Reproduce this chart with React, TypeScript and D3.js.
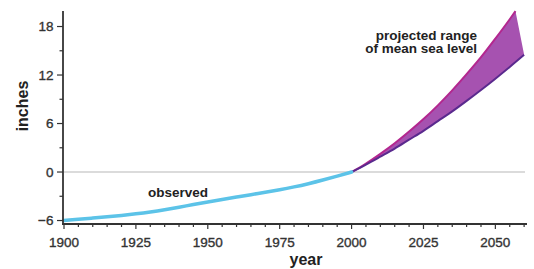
import React from "react";
import * as d3 from "d3";

const observedYears = [1900,1905,1910,1915,1920,1925,1930,1935,1940,1945,1950,1955,1960,1965,1970,1975,1980,1985,1990,1995,2000];
const observedValues = [-6,-5.85,-5.7,-5.55,-5.38,-5.18,-4.95,-4.67,-4.35,-4.02,-3.7,-3.4,-3.1,-2.8,-2.5,-2.2,-1.85,-1.45,-1.0,-0.5,0];

const upperYears = [2000,2005,2010,2015,2020,2025,2030,2035,2040,2045,2050,2055,2057];
const upperValues = [0,1.05,2.25,3.55,5.0,6.55,8.25,10.1,12.1,14.2,16.5,18.9,19.9];

const lowerYears = [2000,2005,2010,2015,2020,2025,2030,2035,2040,2045,2050,2055,2060];
const lowerValues = [0,0.92,1.9,2.9,4.0,5.1,6.3,7.5,8.8,10.15,11.55,13.0,14.5];

const xTicks = [1900,1925,1950,1975,2000,2025,2050];
const yTicks = [-6,0,6,12,18];

const FONT = "'Liberation Sans', Arial, Helvetica, sans-serif";

export default function App() {
  const W = 534, H = 269;
  const x = d3.scaleLinear().domain([1900, 2061]).range([64, 527]);
  const y = d3.scaleLinear().domain([-6.43, 19.92]).range([224, 11]);

  const line = d3.line<[number, number]>().x(d => x(d[0])).y(d => y(d[1])).curve(d3.curveMonotoneX);
  const obsLine = d3.line<[number, number]>().x(d => x(d[0])).y(d => y(d[1])).curve(d3.curveBasis);
  const obs = observedYears.map((yr, i) => [yr, observedValues[i]] as [number, number]);
  const up = upperYears.map((yr, i) => [yr, upperValues[i]] as [number, number]);
  const lo = lowerYears.map((yr, i) => [yr, lowerValues[i]] as [number, number]);

  const upPath = line(up) || "";
  const loPath = line(lo) || "";
  const loRev = d3.line<[number, number]>().x(d => x(d[0])).y(d => y(d[1])).curve(d3.curveMonotoneX)(lo.slice().reverse()) || "";
  const bandPath = upPath + "L" + loRev.slice(1) + "Z";

  const xMinor = d3.range(1900, 2061, 5);
  const yMinor = d3.range(-6, 20, 3);

  return (
    <svg width={W} height={H} style={{ position: "absolute", left: 0, top: 0, background: "#fff" }}>
      <line x1={x(1900)} x2={525} y1={y(0)} y2={y(0)} stroke="#b8b8b8" strokeWidth={1.2} />
      <path d={bandPath} fill="#a652b0" stroke="none" />
      <path d={upPath} fill="none" stroke="#b3278f" strokeWidth={2} />
      <path d={loPath} fill="none" stroke="#5a2a8e" strokeWidth={2} />
      <path d={obsLine(obs) || ""} fill="none" stroke="#5cc3e8" strokeWidth={3.5} strokeLinecap="round" />

      <line x1={63} x2={63} y1={11} y2={224.5} stroke="#333" strokeWidth={1.8} />
      <line x1={62} x2={527} y1={224} y2={224} stroke="#333" strokeWidth={1.8} />
      {yMinor.map(v => (
        <line key={"ym" + v} x1={yTicks.includes(v) ? 57 : 59.5} x2={63} y1={y(v)} y2={y(v)} stroke="#333" strokeWidth={1.2} />
      ))}
      {xMinor.map(v => (
        <line key={"xm" + v} x1={x(v)} x2={x(v)} y1={224} y2={xTicks.includes(v) ? 229 : 227} stroke="#333" strokeWidth={1.2} />
      ))}
      {yTicks.map(v => (
        <text key={"yt" + v} x={53.5} y={y(v)} dy="0.36em" textAnchor="end" fontFamily={FONT} fontSize={13.5} fill="#333" stroke="#333" strokeWidth={0.35}>
          {v < 0 ? "\u2212" + Math.abs(v) : v}
        </text>
      ))}
      {xTicks.map(v => (
        <text key={"xt" + v} x={x(v)} y={247} textAnchor="middle" fontFamily={FONT} fontSize={13.5} fill="#333" stroke="#333" strokeWidth={0.35}>
          {v}
        </text>
      ))}
      <text x={306} y={265} textAnchor="middle" fontFamily={FONT} fontSize={16} fontWeight="bold" fill="#222">year</text>
      <text transform="translate(28,106) rotate(-90)" textAnchor="middle" fontFamily={FONT} fontSize={16} fontWeight="bold" fill="#222">inches</text>
      <text x={178} y={197} textAnchor="middle" fontFamily={FONT} fontSize={13.5} fontWeight="bold" fill="#222">observed</text>
      <text x={477} y={39.5} textAnchor="end" fontFamily={FONT} fontSize={13.5} fontWeight="bold" fill="#222">projected range</text>
      <text x={477} y={53} textAnchor="end" fontFamily={FONT} fontSize={13.5} fontWeight="bold" fill="#222">of mean sea level</text>
    </svg>
  );
}
